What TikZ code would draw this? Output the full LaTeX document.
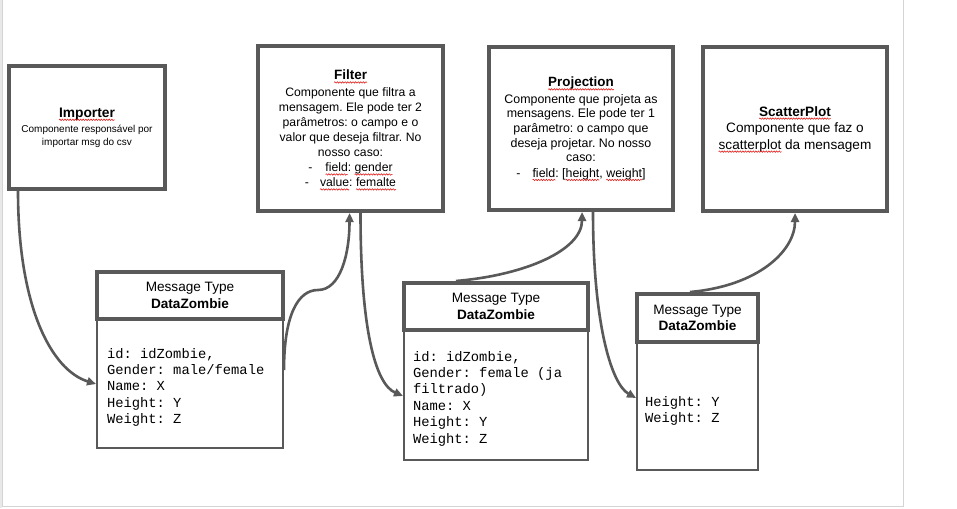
\documentclass[tikz,border=0pt]{standalone}
\usepackage{fontspec}
\setmainfont{Liberation Sans}
\setmonofont{Liberation Mono}
\usetikzlibrary{arrows.meta,calc,decorations.pathmorphing}
\definecolor{edge}{HTML}{595959}
\definecolor{pageline}{HTML}{D4D4D4}
\definecolor{pagestrip}{HTML}{E8E8E8}
\definecolor{squig}{HTML}{E0201C}
\newsavebox\rwbox
\newcommand\rw[1]{\sbox\rwbox{#1}\usebox\rwbox\tikz[overlay,baseline=0pt]\draw[draw=squig, line width=0.6pt, solid, -, decorate, decoration={snake, amplitude=0.7pt, segment length=2.6pt}] (-\wd\rwbox,-2.6pt) -- (0pt,-2.6pt);}
\begin{document}
\frenchspacing
\begin{tikzpicture}[x=1pt,y=-1pt,
  comp/.style={draw=edge, line width=4pt, align=center, inner sep=0pt},
  hdr/.style={draw=edge, line width=4pt, align=center, inner sep=0pt, font=\fontsize{13.6}{16.5}\selectfont},
  bodybox/.style={draw=edge, line width=2pt, inner sep=0pt},
  mono/.style={font=\ttfamily\fontsize{13.8}{16.4}\selectfont, align=left, inner sep=0pt, outer sep=0pt, anchor=north west},
  conn/.style={draw=edge, line width=2.6pt, -{Triangle[length=9pt,width=8pt]}}
]
\useasboundingbox (0,0) rectangle (957,508);
\fill[white] (0,0) rectangle (957,508);
\fill[pagestrip] (0,0) rectangle (2,508);
\draw[pageline, line width=1pt] (2.5,0) -- (2.5,506) -- (903.5,506) -- (903.5,0);

% component boxes
\node[comp, minimum width=156, minimum height=123, font=\fontsize{10}{13}\selectfont] (imp) at (87,127.5)
  {{\fontsize{13.8}{15}\selectfont\bfseries\rw{Importer}}\\[2pt]
   Componente responsável por\\ importar msg do csv};
\node[comp, minimum width=185, minimum height=165, font=\fontsize{12.2}{15}\selectfont] (filt) at (350.5,128.5)
  {{\fontsize{13.5}{15}\selectfont\bfseries\rw{Filter}}\\[2pt]
   Componente que filtra a\\ mensagem. Ele pode ter 2\\ parâmetros: o campo e o\\
   valor que deseja filtrar. No\\ nosso caso:\\
   -\hspace{13pt}\rw{field}: \rw{gender}\\ -\hspace{11pt}\rw{value}: \rw{femalte}};
\node[comp, minimum width=184, minimum height=163, font=\fontsize{12.4}{14.6}\selectfont] (proj) at (581,128.5)
  {{\fontsize{13.4}{15}\selectfont\bfseries\rw{Projection}}\\[2pt]
   Componente que projeta as\\ mensagens. Ele pode ter 1\\ parâmetro: o campo que\\
   deseja projetar. No nosso\\ caso:\\[1pt]
   -\hspace{12pt}\rw{field}: [\rw{height}, \rw{weight}]};
\node[comp, minimum width=184, minimum height=164, font=\fontsize{13.6}{16.5}\selectfont] (scat) at (795,129)
  {{\bfseries\rw{ScatterPlot}}\\ Componente que faz o\\ \rw{scatterplot} da mensagem};

% message types
\node[bodybox, minimum width=186, minimum height=129] (b1) at (190,383.5) {};
\node[hdr, minimum width=186, minimum height=47] (h1) at (190,295.5) {Message Type\\ \textbf{DataZombie}};
\node[mono] (t1) at ($(b1.north west)+(11,30)$)
  {id: idZombie,\\Gender: male/female\\Name: X\\Height: Y\\Weight: Z};

\node[bodybox, minimum width=184, minimum height=130] (b2) at (496,395) {};
\node[hdr, minimum width=184, minimum height=47] (h2) at (496,306.5) {Message Type\\ \textbf{DataZombie}};
\node[mono] (t2) at ($(b2.north west)+(10,22)$)
  {id: idZombie,\\Gender: female (ja\\filtrado)\\Name: X\\Height: Y\\Weight: Z};

\node[bodybox, minimum width=121, minimum height=128] (b3) at (697.5,406) {};
\node[hdr, minimum width=121, minimum height=48] (h3) at (697.5,318) {Message Type\\ \textbf{DataZombie}};
\node[mono] (t3) at ($(b3.north west)+(9,55)$)
  {Height: Y\\Weight: Z};

% connectors
\draw[conn] ([xshift=11pt]imp.south west) .. controls +(0,115) and +(-45,-14) .. ($(b1.north west)+(0,66)$);
\draw[conn] ($(b1.north east)+(0,52)$) .. controls +(0,-55) and +(-20,0) .. (318,290)
  .. controls +(22,0) and +(0,42) .. ([xshift=-1pt]filt.south);
\draw[conn] ([xshift=10pt]filt.south) .. controls +(0,115) and +(-28,-12) .. ($(b2.north west)+(0,67)$);
\draw[conn] ($(h2.north west)+(54,0)$) .. controls +(70,-6) and +(0,38) .. ([xshift=1pt]proj.south);
\draw[conn] ([xshift=12pt]proj.south) .. controls +(0,110) and +(-25,-14) .. ($(b3.north west)+(0,57)$);
\draw[conn] ($(h3.north west)+(55,0)$) .. controls +(68,-6) and +(0,38) .. (scat.south);
\end{tikzpicture}
\end{document}
